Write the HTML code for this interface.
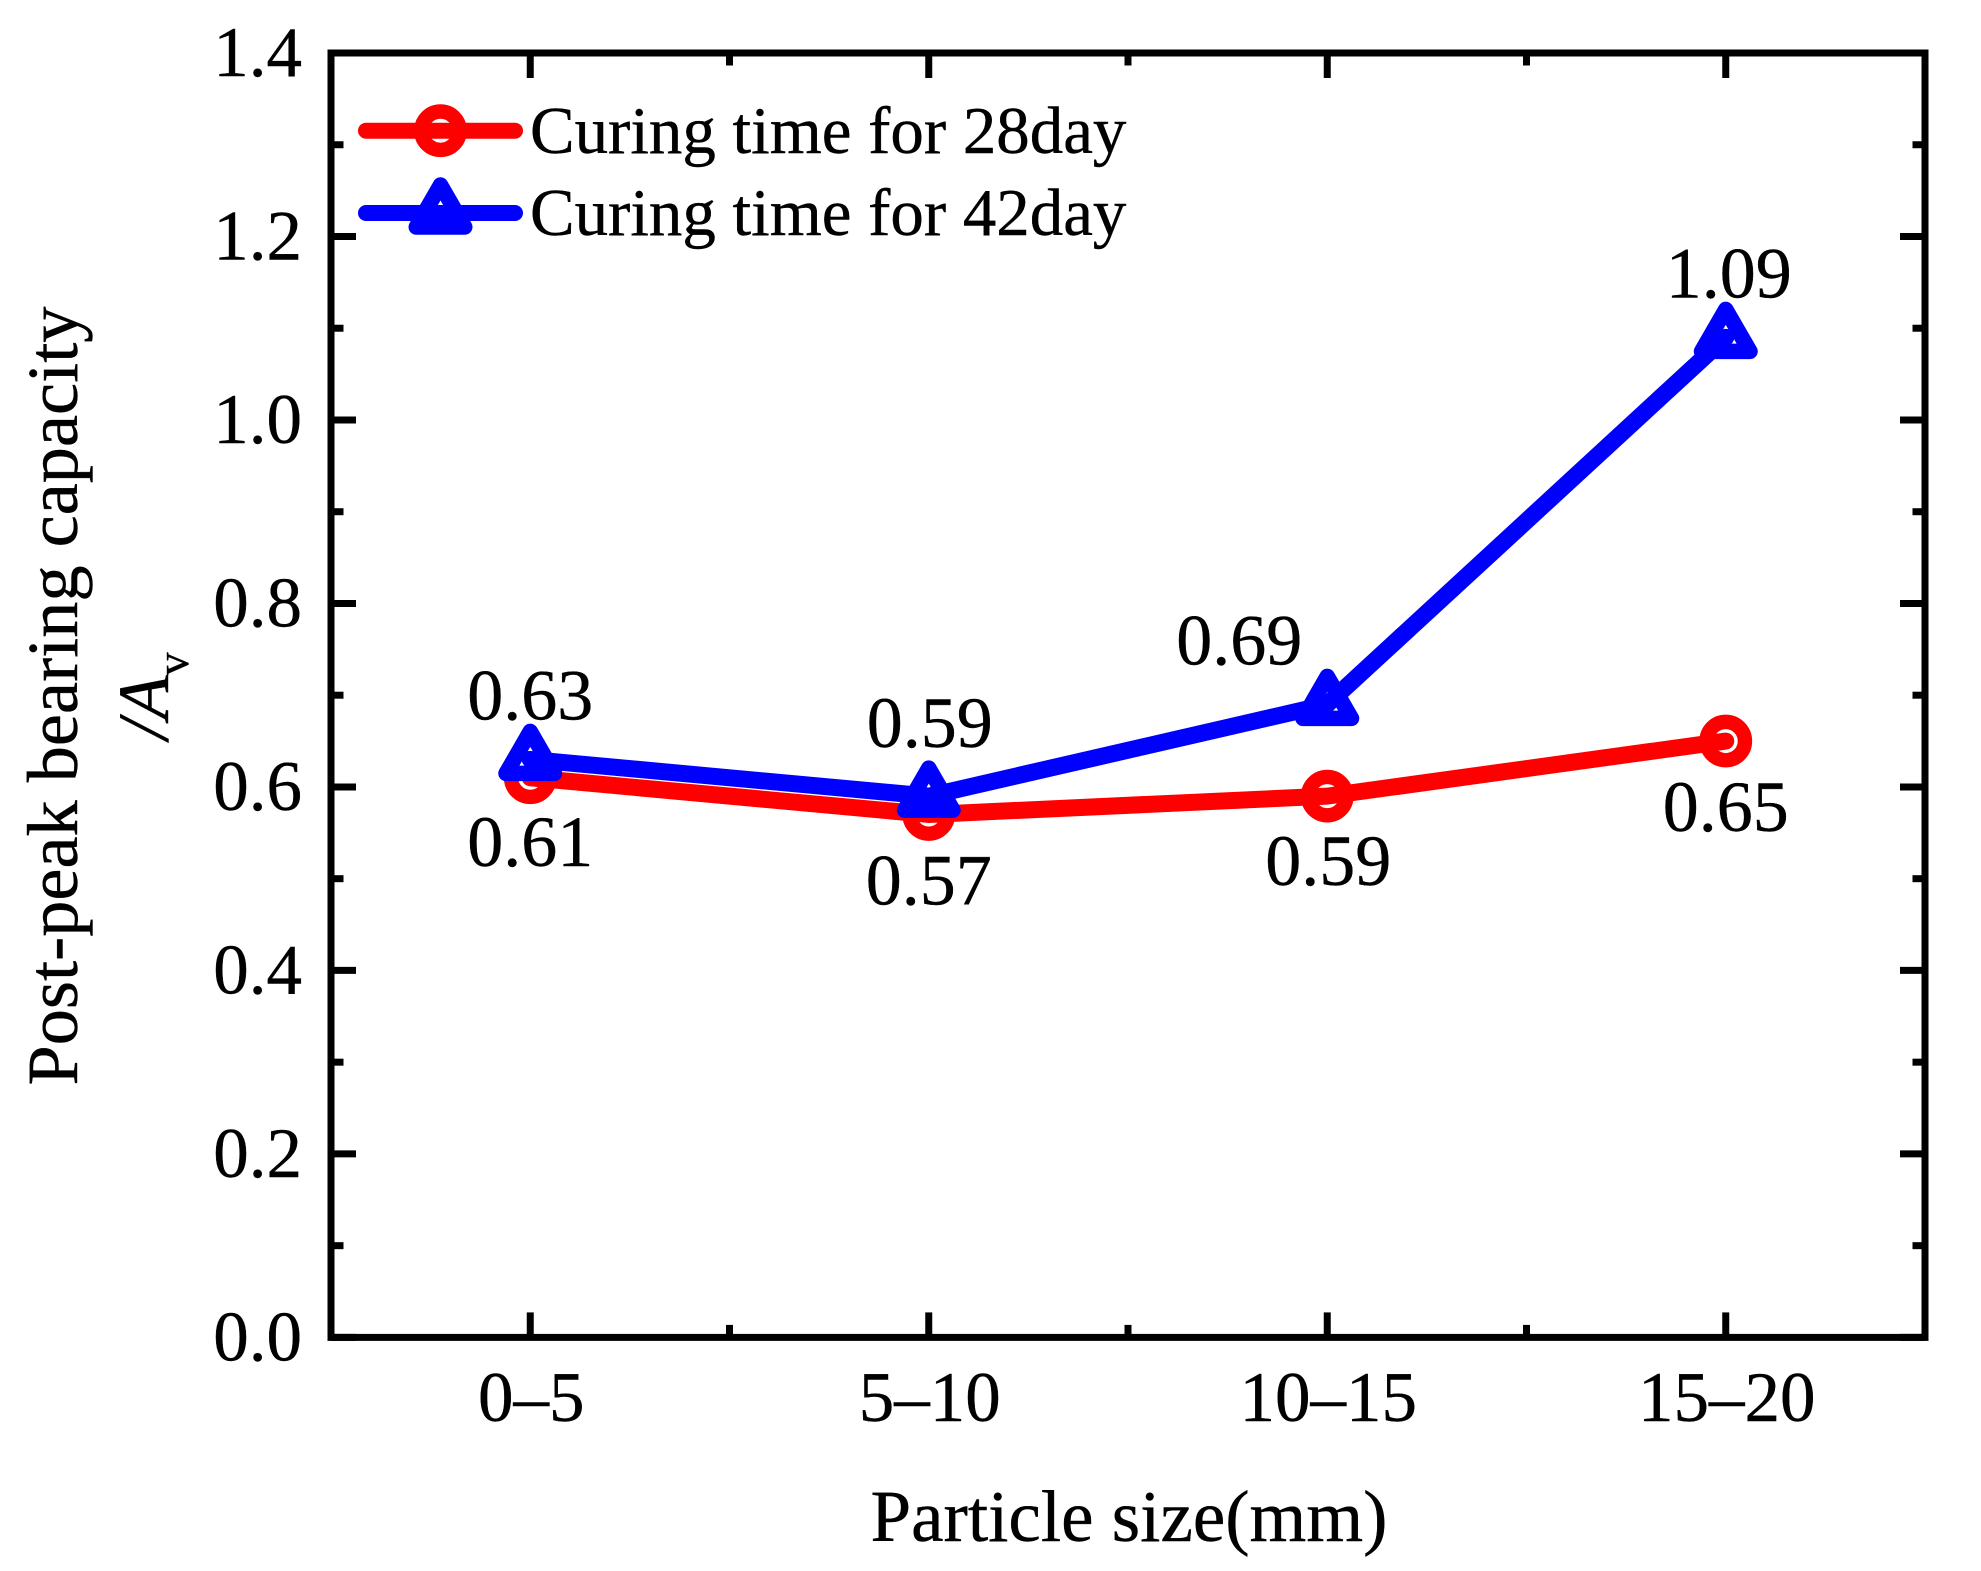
<!DOCTYPE html>
<html lang="en">
<head>
<meta charset="utf-8">
<title>Post-peak bearing capacity vs particle size</title>
<style>
html,body{margin:0;padding:0;background:#fff;}
svg{display:block;}
text{font-family:"Liberation Serif",serif;fill:#000;stroke:#000;stroke-width:0.4px;}
</style>
</head>
<body>
<svg id="chart" xmlns="http://www.w3.org/2000/svg" width="1981" height="1571" viewBox="0 0 1981 1571">
  <rect x="0" y="0" width="1981" height="1571" fill="#ffffff"/>
  <g id="ticks"></g>
  <g id="tick-labels"></g>
  <g id="series"></g>
  <rect x="331" y="53" width="1594" height="1284.4" fill="none" stroke="#000" stroke-width="7"/>
  <g id="legend">
    <text x="530" y="153" font-size="66.9">Curing time for 28day</text>
    <text x="530" y="235" font-size="66.9">Curing time for 42day</text>
  </g>
  <text x="1129" y="1541" font-size="73" text-anchor="middle">Particle size(mm)</text>
  <text transform="translate(77,696) rotate(-90)" font-size="72.3" text-anchor="middle">Post-peak bearing capacity</text>
  <text transform="translate(168,696) rotate(-90)" font-size="72" text-anchor="middle"><tspan font-style="italic">/A</tspan><tspan font-size="46" dy="20">v</tspan></text>
</svg>
<script>
var categories = ['0\u20135', '5\u201310', '10\u201315', '15\u201320'];
var curing28 = [0.61, 0.57, 0.59, 0.65];
var curing42 = [0.63, 0.59, 0.69, 1.09];
var yTickValues = [0.0, 0.2, 0.4, 0.6, 0.8, 1.0, 1.2, 1.4];
var yMinorValues = [0.1, 0.3, 0.5, 0.7, 0.9, 1.1, 1.3];
var xMinorValues = [1.5, 2.5, 3.5];

var NS = 'http://www.w3.org/2000/svg';
var plot = {left: 331, right: 1925, top: 53, bottom: 1337.4};
var xDomain = [0.5, 4.5];
var yDomain = [0, 1.4];
function xScale(v) {
  return plot.left + (v - xDomain[0]) / (xDomain[1] - xDomain[0]) * (plot.right - plot.left);
}
function yScale(v) {
  return plot.bottom - (v - yDomain[0]) / (yDomain[1] - yDomain[0]) * (plot.bottom - plot.top);
}
function mk(tag, attrs, parent) {
  var el = document.createElementNS(NS, tag);
  for (var k in attrs) { el.setAttribute(k, attrs[k]); }
  parent.appendChild(el);
  return el;
}
var tickGroup = document.getElementById('ticks');
var labelGroup = document.getElementById('tick-labels');
var seriesGroup = document.getElementById('series');
var legendGroup = document.getElementById('legend');

function tickLine(x1, y1, x2, y2) {
  var el = mk('line', {x1: x1, y1: y1, x2: x2, y2: y2, stroke: '#000', 'stroke-width': 7}, tickGroup);
  
  
  return el;
}
var MAJOR = 25, MINOR = 12.5;
function yTicks(values, len) {
  values.forEach(function (v) {
    var y = yScale(v);
    tickLine(plot.left, y, plot.left + len, y);
    tickLine(plot.right, y, plot.right - len, y);
  });
}
function xTicks(values, len) {
  values.forEach(function (v) {
    var x = xScale(v);
    tickLine(x, plot.bottom, x, plot.bottom - len);
    tickLine(x, plot.top, x, plot.top + len);
  });
}
yTicks(yTickValues, MAJOR);
yTicks(yMinorValues, MINOR);
xTicks(categories.map(function (c, i) { return i + 1; }), MAJOR);
xTicks(xMinorValues, MINOR);

yTickValues.forEach(function (v) {
  var t = mk('text', {x: 302, y: yScale(v) + 23, 'font-size': 71, 'text-anchor': 'end'}, labelGroup);
  
  
  t.textContent = v.toFixed(1);
});
categories.forEach(function (c, i) {
  var t = mk('text', {x: xScale(i + 1) + 1, y: 1421, 'font-size': 71, 'text-anchor': 'middle'}, labelGroup);
  
  
  t.textContent = c;
});

function circleMarker(parent, cx, cy, color) {
  var el = mk('circle', {cx: cx, cy: cy, r: 19.2, fill: '#fff', stroke: color, 'stroke-width': 14.4}, parent);
  
  
}
function triangleMarker(parent, cx, cy, color) {
  var pts = [[cx, cy - 28], [cx + 24.25, cy + 14], [cx - 24.25, cy + 14]].map(function (p) { return p.join(','); }).join(' ');
  var el = mk('polygon', {points: pts, fill: '#fff', stroke: color, 'stroke-width': 15.5, 'stroke-linejoin': 'round'}, parent);
  
  
}
function drawSeries(values, color, marker, name, labelShift) {
  var g = mk('g', {}, seriesGroup);
  
  
  values.forEach(function (v, i) {
    marker(g, xScale(i + 1), yScale(v), color);
  });
  var d = values.map(function (v, i) { return xScale(i + 1) + ',' + yScale(v); }).join(' ');
  var line = mk('polyline', {points: d, fill: 'none', stroke: color, 'stroke-width': 17, 'stroke-linejoin': 'round', 'stroke-linecap': 'round'}, g);
  
  
  values.forEach(function (v, i) {
    var s = labelShift(i);
    var t = mk('text', {x: xScale(i + 1) + s[0], y: yScale(v) + s[1], 'font-size': 72, 'text-anchor': 'middle'}, seriesGroup);
    
    
    t.textContent = v.toFixed(2);
  });
}
drawSeries(curing28, '#ff0000', circleMarker, 'series-curing-28day', function (i) {
  return i === 0 ? [0, 88] : i === 1 ? [0, 90] : i === 2 ? [1, 89] : [0, 90];
});
drawSeries(curing42, '#0000ff', triangleMarker, 'series-curing-42day', function (i) {
  return i === 0 ? [0, -40] : i === 1 ? [1, -49] : i === 2 ? [-88, -40] : [3, -40];
});

function legendEntry(y, color, marker, name) {
  marker(legendGroup, 440.5, y, color);
  var l = mk('line', {x1: 366, y1: y, x2: 515, y2: y, stroke: color, 'stroke-width': 16, 'stroke-linecap': 'round'}, legendGroup);
  
  
}
legendEntry(130.7, '#ff0000', circleMarker, 'legend-line-28day');
legendEntry(213, '#0000ff', triangleMarker, 'legend-line-42day');
</script>
</body>
</html>
